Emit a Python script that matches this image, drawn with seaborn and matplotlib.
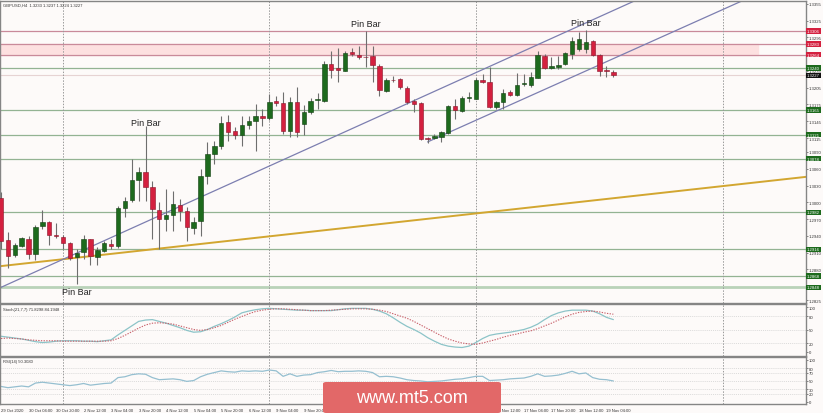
import numpy as np
import matplotlib
matplotlib.use("Agg")
import matplotlib.pyplot as plt
from matplotlib.patches import FancyBboxPatch
import seaborn as sns

sns.set_style("white")
plt.rcParams['font.family'] = ['Liberation Sans', 'DejaVu Sans']

# ---- data (GBPUSD H4, 29 Oct 12:00 .. 19 Nov 08:00) ----
opens = [1.3008, 1.2933, 1.2906, 1.2922, 1.2934, 1.2908, 1.2958, 1.2965, 1.2942, 1.2938,
         1.2927, 1.2902, 1.2911, 1.2934, 1.2902, 1.2913, 1.2926, 1.2922, 1.2990, 1.3004,
         1.3040, 1.3054, 1.3027, 1.2986, 1.2970, 1.2977, 1.2995, 1.2985, 1.2954, 1.2967,
         1.3047, 1.3087, 1.3101, 1.3144, 1.3128, 1.3121, 1.3139, 1.3146, 1.3155, 1.3151,
         1.3181, 1.3178, 1.3128, 1.3180, 1.3140, 1.3162, 1.3183, 1.3181, 1.3248, 1.3240,
         1.3235, 1.3269, 1.3264, 1.3260, 1.3262, 1.3244, 1.3199, 1.3219, 1.3221, 1.3205,
         1.3181, 1.3178, 1.3115, 1.3115, 1.3117, 1.3124, 1.3172, 1.3163, 1.3187, 1.3185,
         1.3219, 1.3215, 1.3171, 1.3180, 1.3198, 1.3192, 1.3212, 1.3210, 1.3223, 1.3262,
         1.3240, 1.3242, 1.3248, 1.3266, 1.3275, 1.3275, 1.3289, 1.3264, 1.3237, 1.3233]
highs = [1.3019, 1.2947, 1.2927, 1.2938, 1.2940, 1.2960, 1.2986, 1.2967, 1.2963, 1.2942,
         1.2929, 1.2917, 1.2942, 1.2935, 1.2920, 1.2931, 1.2934, 1.2993, 1.3010, 1.3078,
         1.3063, 1.3137, 1.3038, 1.3001, 1.3024, 1.3020, 1.3006, 1.2992, 1.2974, 1.3060,
         1.3108, 1.3110, 1.3155, 1.3156, 1.3135, 1.3155, 1.3155, 1.3176, 1.3167, 1.3194,
         1.3190, 1.3198, 1.3189, 1.3206, 1.3174, 1.3187, 1.3196, 1.3253, 1.3271, 1.3276,
         1.3271, 1.3276, 1.3280, 1.3307, 1.3280, 1.3248, 1.3223, 1.3226, 1.3223, 1.3208,
         1.3185, 1.3180, 1.3117, 1.3122, 1.3128, 1.3174, 1.3185, 1.3190, 1.3198, 1.3223,
         1.3230, 1.3242, 1.3181, 1.3203, 1.3201, 1.3232, 1.3230, 1.3233, 1.3271, 1.3266,
         1.3260, 1.3262, 1.3269, 1.3296, 1.3305, 1.3309, 1.3291, 1.3266, 1.3244, 1.3237]
lows = [1.2917, 1.2883, 1.2902, 1.2920, 1.2899, 1.2897, 1.2952, 1.2924, 1.2936, 1.2917,
        1.2897, 1.2854, 1.2899, 1.2888, 1.2888, 1.2911, 1.2917, 1.2918, 1.2974, 1.3001,
        1.3002, 1.3002, 1.2934, 1.2917, 1.2949, 1.2949, 1.2967, 1.2931, 1.2943, 1.2940,
        1.3033, 1.3069, 1.3096, 1.3110, 1.3113, 1.3101, 1.3131, 1.3092, 1.3137, 1.3147,
        1.3172, 1.3122, 1.3117, 1.3117, 1.3121, 1.3158, 1.3167, 1.3180, 1.3223, 1.3215,
        1.3234, 1.3262, 1.3257, 1.3242, 1.3215, 1.3190, 1.3198, 1.3215, 1.3203, 1.3176,
        1.3162, 1.3112, 1.3106, 1.3113, 1.3108, 1.3122, 1.3149, 1.3161, 1.3180, 1.3184,
        1.3214, 1.3169, 1.3167, 1.3167, 1.3190, 1.3191, 1.3208, 1.3206, 1.3222, 1.3239,
        1.3239, 1.3239, 1.3246, 1.3257, 1.3271, 1.3267, 1.3262, 1.3226, 1.3224, 1.3224]
closes = [1.2931, 1.2904, 1.2924, 1.2936, 1.2908, 1.2956, 1.2965, 1.2942, 1.2940, 1.2927,
          1.2900, 1.2909, 1.2934, 1.2904, 1.2915, 1.2927, 1.2922, 1.2990, 1.3002, 1.3040,
          1.3054, 1.3027, 1.2988, 1.2970, 1.2977, 1.2997, 1.2985, 1.2956, 1.2965, 1.3047,
          1.3087, 1.3101, 1.3142, 1.3126, 1.3121, 1.3139, 1.3146, 1.3155, 1.3151, 1.3180,
          1.3178, 1.3128, 1.3180, 1.3126, 1.3162, 1.3181, 1.3185, 1.3248, 1.3237, 1.3237,
          1.3267, 1.3266, 1.3260, 1.3259, 1.3246, 1.3201, 1.3219, 1.3218, 1.3206, 1.3180,
          1.3176, 1.3113, 1.3113, 1.3119, 1.3126, 1.3172, 1.3165, 1.3187, 1.3188, 1.3219,
          1.3215, 1.3171, 1.3180, 1.3196, 1.3192, 1.3210, 1.3214, 1.3224, 1.3264, 1.3240,
          1.3244, 1.3246, 1.3267, 1.3289, 1.3292, 1.3287, 1.3264, 1.3235, 1.3235, 1.3227]

stoch_main = [35, 33, 31, 29, 26, 23, 21, 22, 24, 25, 25, 25, 24, 24, 23, 25, 27, 38, 48, 58,
              68, 71, 72, 68, 64, 59, 54, 48, 44, 45, 50, 57, 63, 70, 78, 87, 91, 94, 96, 97,
              96, 95, 94, 93, 93, 92, 92, 92, 92, 94, 96, 97, 97, 97, 95, 91, 85, 76, 66, 57,
              50, 42, 32, 24, 17, 13, 11, 10, 13, 21, 30, 37, 40, 42, 44, 47, 50, 55, 62, 72,
              81, 87, 91, 93, 93, 93, 91, 85, 77, 72]
stoch_signal = [30, 31, 30, 29, 27, 26, 25, 25, 25, 24, 24, 24, 24, 24, 24, 24, 25, 30, 37, 45,
                53, 60, 64, 65, 64, 62, 58, 54, 50, 48, 50, 54, 59, 66, 73, 79, 85, 90, 93, 95,
                96, 96, 95, 94, 93, 92, 92, 92, 93, 94, 95, 96, 96, 96, 95, 93, 90, 85, 80, 75,
                68, 60, 52, 44, 36, 29, 24, 20, 18, 17, 20, 24, 28, 33, 37, 40, 44, 47, 52, 58,
                64, 71, 78, 84, 88, 90, 91, 89, 86, 84]
rsi = [37, 34, 36, 38, 36, 45, 47, 45, 43, 41, 39, 41, 44, 40, 42, 44, 45, 58, 60, 65,
       67, 66, 58, 53, 54, 55, 53, 49, 51, 60, 66, 70, 74, 72, 71, 74, 73, 74, 73, 76,
       74, 61, 67, 61, 64, 65, 70, 72, 75, 72, 73, 73, 74, 73, 70, 60, 61, 60, 57, 53,
       51, 50, 48, 49, 50, 52, 54, 55, 58, 61, 61, 51, 52, 53, 55, 56, 57, 61, 67, 61,
       62, 64, 68, 73, 67, 69, 58, 54, 53, 50]

tick_labels = ["29 Oct 2020", "30 Oct 04:00", "30 Oct 20:00", "2 Nov 12:00", "3 Nov 04:00",
               "3 Nov 20:00", "4 Nov 12:00", "5 Nov 04:00", "5 Nov 20:00", "6 Nov 12:00",
               "9 Nov 04:00", "9 Nov 20:00", "10 Nov 12:00", "11 Nov 04:00", "11 Nov 20:00",
               "12 Nov 12:00", "13 Nov 04:00", "13 Nov 20:00", "16 Nov 12:00", "17 Nov 04:00",
               "17 Nov 20:00", "18 Nov 12:00", "19 Nov 04:00"]
week_starts = [9, 39, 69, 105]

resist_levels = [1.3306, 1.3283, 1.3264]
support_levels = [1.3240, 1.3165, 1.3121, 1.3078, 1.2982, 1.2916, 1.2868, 1.2848]
zone = [1.3264, 1.3283]
price_ticks = [1.3355, 1.3325, 1.3295, 1.3235, 1.3205, 1.3175, 1.3145, 1.3115, 1.3090,
               1.3060, 1.3030, 1.3000, 1.2970, 1.2940, 1.2910, 1.2880, 1.2825]
# trend lines: (bar, price) anchors
gold_line = [(0, 1.2886), (110, 1.3036)]
chan_upper = [(0, 1.2848), (80, 1.3293)]
chan_lower = [(62, 1.3108), (90, 1.32625)]
pin_bars = [11, 21, 53, 85]

# ---- styling ----
bg = '#fdfaf9'
bull, bear = '#1d6a1d', '#d4203f'
W, H = 823, 414
lab_fs = 3.1


def box(x0, y0, x1, y1):
    return [x0 / W, 1 - y1 / H, (x1 - x0) / W, (y1 - y0) / H]


fig = plt.figure(figsize=(8.23, 4.14), dpi=100, facecolor=bg)
ax = fig.add_axes(box(0, 2, 806, 304), facecolor=bg)
ax_st = fig.add_axes(box(0, 305, 806, 357), facecolor=bg, sharex=ax)
ax_rsi = fig.add_axes(box(0, 358, 806, 405), facecolor=bg, sharex=ax)

bars = np.arange(len(opens))
o, h, l, c = map(np.array, (opens, highs, lows, closes))
up = c > o

# levels and zone
ax.fill_between([-1, 110], zone[0], zone[1], color='#fde0e0', zorder=0)
for lv in resist_levels:
    ax.axhline(lv, color='#c98a9a', lw=0.9, zorder=1)
for lv in support_levels[:-1]:
    ax.axhline(lv, color='#93b393', lw=0.9, zorder=1)
ax.axhline(support_levels[-1], color='#b9d2b9', lw=2, zorder=1)
ax.axhline(closes[-1], color='#e6d3d3', lw=0.8, zorder=1)

# trend lines
ax.axline(gold_line[0], gold_line[1], color='#d2a630', lw=1.4, zorder=2)
ax.axline(chan_upper[0], chan_upper[1], color='#7c7eb0', lw=0.9, zorder=2)
slope = (chan_lower[1][1] - chan_lower[0][1]) / (chan_lower[1][0] - chan_lower[0][0])
ax.plot([chan_lower[0][0], 140], [chan_lower[0][1], chan_lower[0][1] + slope * (140 - chan_lower[0][0])],
        color='#7c7eb0', lw=0.9, zorder=2)

# candles
ax.vlines(bars, l, h, color='#6e6e6e', lw=0.8, zorder=3)
body_lo = np.minimum(o, c)
body_h = np.maximum(np.abs(c - o), 0.00005)
ax.bar(bars[up], body_h[up], bottom=body_lo[up], width=0.64, color=bull,
       edgecolor='#103e10', lw=0.4, zorder=4)
ax.bar(bars[~up], body_h[~up], bottom=body_lo[~up], width=0.64, color=bear,
       edgecolor='#8a1228', lw=0.4, zorder=4)

for b in pin_bars:
    if b == 11:
        ax.annotate("Pin Bar", (b, lows[b]), xytext=(0, -2), textcoords='offset points',
                    ha='center', va='top', fontsize=6.5, color='#222222')
    else:
        off = -1 if b == 21 else 2
        ax.annotate("Pin Bar", (b, highs[b]), xytext=(0, off), textcoords='offset points',
                    ha='center', va='bottom', fontsize=6.5, color='#222222')

ax.text(0.004, 0.994, "GBPUSD,H4  1.3233 1.3237 1.3224 1.3227", transform=ax.transAxes,
        fontsize=3, va='top', ha='left', color='#333333')

# oscillators
sns.lineplot(x=bars, y=stoch_main, ax=ax_st, color='#8cc4c8', lw=0.9)
sns.lineplot(x=bars, y=stoch_signal, ax=ax_st, color='#c8606a', lw=0.8, linestyle=(0, (1.2, 1.2)))
for lv in [80, 50, 20]:
    ax_st.axhline(lv, color='#cfcfcf', lw=0.5, ls=(0, (1.5, 1.5)), zorder=0)
ax_st.text(0.004, 0.95, "Stoch(21,7,7) 71.8298 84.1948", transform=ax_st.transAxes,
           fontsize=3, va='top', ha='left', color='#333333')

sns.lineplot(x=bars, y=rsi, ax=ax_rsi, color='#95bfd0', lw=0.9)
for lv in [80, 70, 50, 30, 20]:
    ax_rsi.axhline(lv, color='#cfcfcf', lw=0.5, ls=(0, (1.5, 1.5)), zorder=0)
ax_rsi.text(0.004, 0.95, "RSI(14) 50.3080", transform=ax_rsi.transAxes,
            fontsize=3, va='top', ha='left', color='#333333')

# week separators
for a in (ax, ax_st, ax_rsi):
    for b in week_starts:
        a.axvline(b, color='#9a9a9a', lw=0.7, ls=(0, (1.5, 1.5)), zorder=1)
    for s in a.spines.values():
        s.set_color('#858585')
        s.set_linewidth(1)
    a.yaxis.tick_right()
    a.tick_params(axis='y', length=1.5, width=0.5, labelsize=lab_fs, pad=0.6, colors='#555555',
                  labelcolor='#333333')
    a.set_xlabel('')
    a.set_ylabel('')

ax.set_xlim(-0.15, 117.0)
ax.set_ylim(1.2820, 1.3360)
ax.set_yticks(price_ticks)
ax.set_yticklabels([f"{p:.4f}" for p in price_ticks])

ax_st.set_ylim(-8.9, 106.7)
ax_st.set_yticks([100, 80, 50, 20, 0])
ax_rsi.set_ylim(-4.8, 107)
ax_rsi.set_yticks([100, 80, 70, 50, 30, 20, 0])

for a in (ax, ax_st):
    a.tick_params(axis='x', bottom=False, labelbottom=False)
ax_rsi.set_xticks(np.arange(0, 4 * len(tick_labels), 4))
ax_rsi.set_xticklabels(tick_labels)
ax_rsi.tick_params(axis='x', length=2, width=0.5, labelsize=3, pad=1, colors='#555555',
                   labelcolor='#333333')
for lbl in ax_rsi.get_xticklabels():
    lbl.set_ha('left')

# price boxes on the right scale
ytr = ax.get_yaxis_transform()
box_items = ([(lv, '#d4203f') for lv in resist_levels]
             + [(lv, '#1d6a1d') for lv in support_levels]
             + [(closes[-1], '#111111')])
for lv, col in box_items:
    ax.text(1.0012, lv, f"{lv:.4f}", transform=ytr, fontsize=lab_fs, color='white',
            va='center', ha='left', clip_on=False, zorder=10,
            bbox=dict(boxstyle='square,pad=0.18', fc=col, ec='none'))

# watermark
wx0, wy0, wx1, wy1 = 323, 383, 501, 414
fig.patches.append(FancyBboxPatch((wx0 / W, 1 - wy1 / H), (wx1 - wx0) / W, (wy1 - wy0) / H,
                                  boxstyle='round,pad=0,rounding_size=0.004', fc='#e26868',
                                  ec='none', transform=fig.transFigure, figure=fig, zorder=20))
fig.text((wx0 + wx1) / 2 / W, 1 - (wy0 + wy1) / 2 / H, "www.mt5.com", color='white',
         fontsize=13, ha='center', va='center', zorder=21)

fig.savefig("out.png", dpi=100, facecolor=bg)
